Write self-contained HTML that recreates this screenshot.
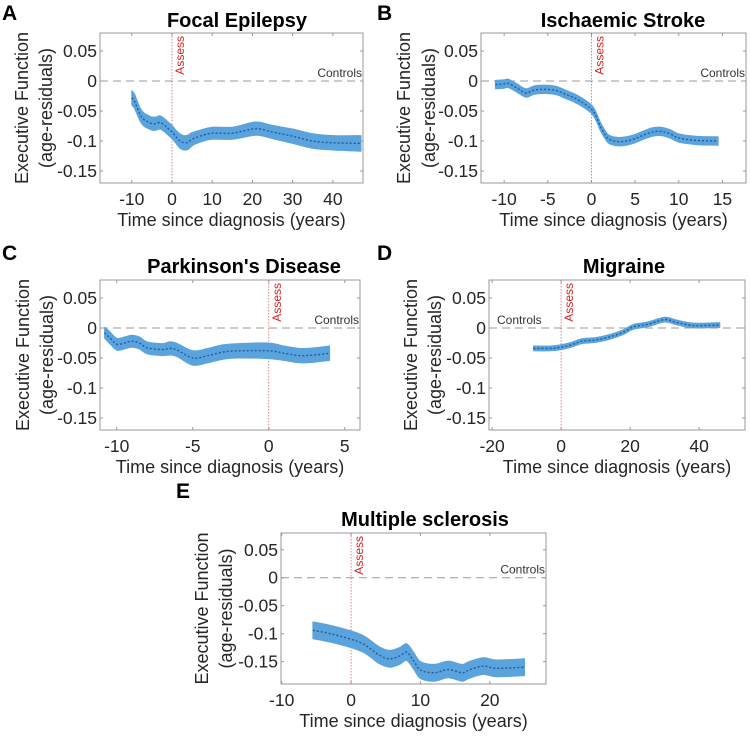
<!DOCTYPE html>
<html><head><meta charset="utf-8">
<style>
html,body{margin:0;padding:0;background:#fff;}
svg{display:block;font-family:"Liberation Sans",sans-serif;}
</style></head>
<body>
<svg id="fig" width="750" height="737" viewBox="0 0 750 737"></svg>
<script>
// ---- data (x = years since diagnosis, y = mean, h = CI half width) ----
const aX = [-10,-9.3,-8,-7,-6,-5,-4,-3,-2,-1,0,1,2,3,4,5,7,10,15,20,22,25,30,35,40,47];
const aY = [-0.028,-0.034,-0.055,-0.064,-0.068,-0.071,-0.071,-0.069,-0.073,-0.079,-0.085,-0.093,-0.1,-0.103,-0.102,-0.097,-0.092,-0.087,-0.087,-0.08,-0.08,-0.085,-0.092,-0.1,-0.103,-0.104];
const aH = [0.012,0.012,0.011,0.011,0.011,0.011,0.011,0.011,0.011,0.011,0.011,0.011,0.012,0.012,0.012,0.011,0.01,0.01,0.01,0.011,0.011,0.011,0.012,0.012,0.012,0.013];
const bX = [-11,-10,-9.5,-8.5,-7.5,-6.5,-5,-4,-3,-2,-1,0,0.5,1,1.5,2,3,4,5,6,7,8,9,10,12,14.5];
const bY = [-0.006,-0.005,-0.004,-0.012,-0.02,-0.015,-0.014,-0.016,-0.022,-0.028,-0.036,-0.047,-0.058,-0.075,-0.088,-0.097,-0.101,-0.1,-0.096,-0.09,-0.085,-0.084,-0.088,-0.095,-0.099,-0.1];
const bH = [0.007,0.007,0.007,0.007,0.007,0.007,0.007,0.007,0.007,0.007,0.007,0.007,0.007,0.007,0.007,0.007,0.007,0.007,0.007,0.007,0.007,0.007,0.007,0.007,0.007,0.007];
const cX = [-10.8,-10.5,-10,-9.5,-9,-8.5,-8,-7,-6.5,-6,-5,-4,-3,-2,0,1,2,3,4];
const cY = [-0.008,-0.015,-0.027,-0.025,-0.022,-0.025,-0.033,-0.036,-0.034,-0.037,-0.05,-0.046,-0.04,-0.038,-0.038,-0.042,-0.046,-0.045,-0.042];
const cH = [0.009,0.01,0.01,0.01,0.01,0.01,0.01,0.01,0.011,0.011,0.012,0.012,0.012,0.012,0.013,0.012,0.012,0.012,0.012];
const dX = [-8,-3,0,3,6,10,14,18,21,25,30,33,37,40,46];
const dY = [-0.034,-0.034,-0.032,-0.028,-0.022,-0.02,-0.015,-0.007,0.002,0.006,0.014,0.01,0.005,0.004,0.005];
const dH = [0.004,0.004,0.004,0.004,0.004,0.004,0.004,0.004,0.004,0.004,0.004,0.004,0.004,0.004,0.004];
const eX = [-5.5,-3,0,2,4,5.5,7,8,9,10,12,14,16,17,19,21,25];
const eY = [-0.094,-0.1,-0.11,-0.12,-0.138,-0.145,-0.14,-0.133,-0.148,-0.165,-0.17,-0.164,-0.17,-0.165,-0.158,-0.162,-0.16];
const eH = [0.015,0.015,0.015,0.015,0.015,0.015,0.015,0.015,0.015,0.015,0.015,0.015,0.015,0.015,0.015,0.015,0.015];
const aTicks = [-10,0,10,20,30,40];
const bTicks = [-10,-5,0,5,10,15];
const cTicks = [-10,-5,0,5];
const dTicks = [-20,0,20,40];
const eTicks = [-10,0,10,20];
const yTicks = [0.05,0,-0.05,-0.1,-0.15];
const yTickLabels = ["0.05","0","-0.05","-0.1","-0.15"];

const NS = "http://www.w3.org/2000/svg";
const svg = document.getElementById('fig');
function mk(tag, attrs, parent, text){
  const el = document.createElementNS(NS, tag);
  for (const k in attrs) el.setAttribute(k, attrs[k]);
  if (text !== undefined) el.textContent = text;
  (parent||svg).appendChild(el);
  return el;
}
// smooth path through points (Catmull-Rom -> cubic Bezier)
function smooth(pts, move){
  let d = (move ? 'M' : 'L') + pts[0][0].toFixed(1) + ',' + pts[0][1].toFixed(1);
  for (let i=0;i<pts.length-1;i++){
    const p0 = pts[Math.max(i-1,0)], p1 = pts[i], p2 = pts[i+1], p3 = pts[Math.min(i+2,pts.length-1)];
    const c1 = [p1[0]+(p2[0]-p0[0])/6, p1[1]+(p2[1]-p0[1])/6];
    const c2 = [p2[0]-(p3[0]-p1[0])/6, p2[1]-(p3[1]-p1[1])/6];
    d += ` C${c1[0].toFixed(1)},${c1[1].toFixed(1)} ${c2[0].toFixed(1)},${c2[1].toFixed(1)} ${p2[0].toFixed(1)},${p2[1].toFixed(1)}`;
  }
  return d;
}

function panel(cfg){
  const g = mk('g', {});
  
  
  const L=cfg.box[0], T=cfg.box[1], R=cfg.box[2], B=cfg.box[3];
  const sx = v => L + (v - cfg.xr[0]) / (cfg.xr[1]-cfg.xr[0]) * (R-L);
  const sy = v => T + (cfg.yr[1] - v) / (cfg.yr[1]-cfg.yr[0]) * (B-T);
  const lt = mk('text', {x:cfg.letter[0], y:cfg.letter[1], 'font-size':21, 'font-weight':'bold', fill:'#000'}, g, cfg.letterText);
  
  
  const tt = mk('text', {x:cfg.title[0], y:cfg.title[1], 'font-size':20, 'font-weight':'bold', 'text-anchor':'middle', fill:'#000'}, g, cfg.titleText);
  
  
  const fr = mk('rect', {x:L, y:T, width:R-L, height:B-T, fill:'none', stroke:'#999', 'stroke-width':1}, g);
  
  
  yTicks.forEach((v,i)=>{
    const y = sy(v);
    mk('line', {x1:L, x2:L+3, y1:y, y2:y, stroke:'#999'}, g);
    mk('line', {x1:R, x2:R-3, y1:y, y2:y, stroke:'#999'}, g);
    const t = mk('text', {x:L-3, y:y+6, 'font-size':17.5, 'text-anchor':'end', fill:'#262626'}, g, yTickLabels[i]);
    
    
  });
  cfg.ticks.forEach(v=>{
    const x = sx(v);
    mk('line', {x1:x, x2:x, y1:B, y2:B-3, stroke:'#999'}, g);
    mk('line', {x1:x, x2:x, y1:T, y2:T+3, stroke:'#999'}, g);
    const t = mk('text', {x:x, y:B+22, 'font-size':17.5, 'text-anchor':'middle', fill:'#262626'}, g, String(v));
    
    
  });
  const xl = mk('text', {x:(L+R)/2, y:B+43, 'font-size':18, 'text-anchor':'middle', fill:'#262626'}, g, 'Time since diagnosis (years)');
  
  
  const my = (T+B)/2;
  const y1 = mk('text', {x:0, y:0, 'font-size':18, 'text-anchor':'middle', fill:'#262626', transform:`translate(${cfg.yl[0]+6},${my}) rotate(-90)`}, g, 'Executive Function');
  
  
  const y2 = mk('text', {x:0, y:0, 'font-size':18, 'text-anchor':'middle', fill:'#262626', transform:`translate(${cfg.yl[1]+6},${my}) rotate(-90)`}, g, '(age-residuals)');
  
  
  const y0 = sy(0);
  const cl = mk('line', {x1:L, x2:R, y1:y0, y2:y0, stroke:'#999', 'stroke-width':1, 'stroke-dasharray':'8,5'}, g);
  
  
  const ct = cfg.controlsLeft
    ? mk('text', {x:L+8, y:y0-4, 'font-size':12, fill:'#333'}, g, 'Controls')
    : mk('text', {x:R-1, y:y0-4, 'font-size':12, 'text-anchor':'end', fill:'#333'}, g, 'Controls');
  
  
  const ax = sx(0);
  const al = mk('line', {x1:ax, x2:ax, y1:T, y2:B, stroke:'#d66', 'stroke-width':0.8, 'stroke-dasharray':'1.5,1.5'}, g);
  
  
  const at = mk('text', {x:0, y:0, 'font-size':12, 'text-anchor':'end', fill:'#d62728', transform:`translate(${ax+12},${T+3}) rotate(-90)`}, g, 'Assess');
  
  
  const up = cfg.x.map((v,i)=>[sx(v), sy(cfg.y[i]+cfg.h[i])]);
  const lo = cfg.x.map((v,i)=>[sx(v), sy(cfg.y[i]-cfg.h[i])]).reverse();
  const band = mk('path', {d: smooth(up,true) + ' ' + smooth(lo,false) + ' Z', fill:'#5ba3dc', stroke:'#5ba3dc', 'stroke-width':1, 'stroke-linejoin':'round'}, g);
  
  
  const mid = cfg.x.map((v,i)=>[sx(v), sy(cfg.y[i])]);
  const mean = mk('path', {d: smooth(mid,true), fill:'none', stroke:'#1d5f9e', 'stroke-width':1.4, 'stroke-dasharray':'2,2'}, g);
  
  
}

panel({id:'focal-epilepsy', letterText:'A', letter:[2,20], titleText:'Focal Epilepsy', title:[237,27],
  box:[100,33,363,183], xr:[-17.9,47.5], yr:[-0.17,0.08], ticks:aTicks, yl:[22,46], x:aX, y:aY, h:aH});
panel({id:'ischaemic-stroke', letterText:'B', letter:[377,20], titleText:'Ischaemic Stroke', title:[623,27],
  box:[481,33,746,183], xr:[-12.65,17.7], yr:[-0.17,0.08], ticks:bTicks, yl:[404,429], x:bX, y:bY, h:bH});
panel({id:'parkinsons-disease', letterText:'C', letter:[2,260], titleText:"Parkinson's Disease", title:[244,273],
  box:[100,280,360,430], xr:[-11.1,6.0], yr:[-0.17,0.08], ticks:cTicks, yl:[23,47], x:cX, y:cY, h:cH});
panel({id:'migraine', letterText:'D', letter:[377,260], titleText:'Migraine', title:[624,273],
  box:[489,280,745,430], xr:[-20.9,53.3], yr:[-0.17,0.08], ticks:dTicks, yl:[411,435], x:dX, y:dY, h:dH, controlsLeft:true});
panel({id:'multiple-sclerosis', letterText:'E', letter:[176,498], titleText:'Multiple sclerosis', title:[425,526],
  box:[281,533,546,684], xr:[-10.1,28.1], yr:[-0.19,0.08], ticks:eTicks, yl:[202,226], x:eX, y:eY, h:eH});
</script>
</body></html>
